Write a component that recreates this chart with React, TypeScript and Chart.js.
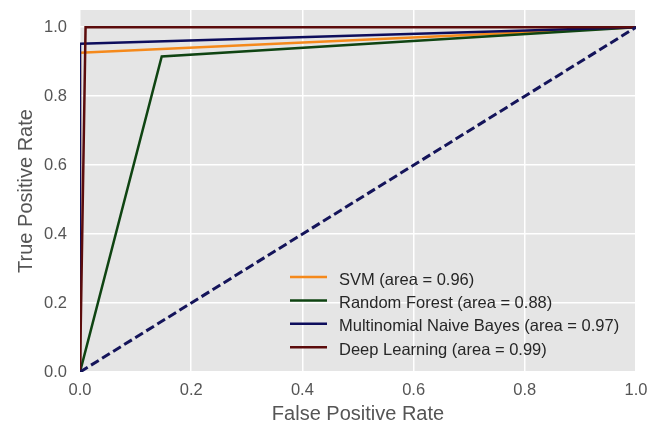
import React, { useEffect, useRef } from 'react';
import { Chart, registerables } from 'chart.js';

Chart.register(...registerables);

const FONT = '"Liberation Sans", Arial, Helvetica, sans-serif';

// tick values / labels
const tickValues = [0, 0.2, 0.4, 0.6, 0.8, 1.0];
const tickLabels = ['0.0', '0.2', '0.4', '0.6', '0.8', '1.0'];

// ROC curves (false positive rate, true positive rate)
const svmFpr = [0, 0, 1];
const svmTpr = [0, 0.926, 1];
const rfFpr = [0, 0.147, 1];
const rfTpr = [0, 0.915, 1];
const nbFpr = [0, 0, 1];
const nbTpr = [0, 0.952, 1];
const dlFpr = [0, 0.01, 1];
const dlTpr = [0, 1.0, 1];
const chanceFpr = [0, 1];
const chanceTpr = [0, 1];

const seriesLabels = [
  'SVM (area = 0.96)',
  'Random Forest (area = 0.88)',
  'Multinomial Naive Bayes (area = 0.97)',
  'Deep Learning (area = 0.99)',
];
const seriesColors = ['#F5891B', '#0F4412', '#0D0D5C', '#5C0C0C'];
const chanceColor = '#14145A';

const toPoints = (xs: number[], ys: number[]) => xs.map((x, i) => ({ x, y: ys[i] }));

const bgPlugin = {
  id: 'plotBg',
  beforeDraw(chart: any) {
    const { ctx, chartArea } = chart;
    ctx.save();
    ctx.fillStyle = '#FFFFFF';
    ctx.fillRect(0, 0, chart.width, chart.height);
    ctx.fillStyle = '#E5E5E5';
    ctx.fillRect(chartArea.left, chartArea.top, chartArea.right - chartArea.left, chartArea.bottom - chartArea.top);
    ctx.restore();
  },
};

const legendPlugin = {
  id: 'customLegend',
  afterDatasetsDraw(chart: any) {
    const { ctx, chartArea } = chart;
    const x0 = chartArea.left + 210;
    const y0 = chartArea.top + 267;
    const step = 23.4;
    ctx.save();
    chart.data.datasets.forEach((ds: any, i: number) => {
      if (!ds.inLegend) return;
      const y = y0 + i * step;
      ctx.strokeStyle = ds.borderColor;
      ctx.lineWidth = 2.5;
      ctx.setLineDash([]);
      ctx.beginPath();
      ctx.moveTo(x0, y);
      ctx.lineTo(x0 + 37, y);
      ctx.stroke();
      ctx.fillStyle = '#262626';
      ctx.font = `16.5px ${FONT}`;
      ctx.textBaseline = 'middle';
      ctx.textAlign = 'left';
      ctx.fillText(ds.label, x0 + 49, y + 3);
    });
    ctx.restore();
  },
};

export default function App() {
  const ref = useRef<HTMLCanvasElement | null>(null);

  useEffect(() => {
    document.body.style.margin = '0';
    const canvas = ref.current;
    if (!canvas) return;
    const curves = [
      [svmFpr, svmTpr],
      [rfFpr, rfTpr],
      [nbFpr, nbTpr],
      [dlFpr, dlTpr],
    ];
    const datasets: any[] = curves.map(([xs, ys], i) => ({
      label: seriesLabels[i],
      data: toPoints(xs, ys),
      borderColor: seriesColors[i],
      backgroundColor: seriesColors[i],
      borderWidth: 2.5,
      showLine: true,
      pointRadius: 0,
      tension: 0,
      order: 10 - i,
      inLegend: true,
    }));
    datasets.push({
      label: 'chance',
      data: toPoints(chanceFpr, chanceTpr),
      borderColor: chanceColor,
      backgroundColor: chanceColor,
      borderWidth: 3,
      borderDash: [9, 4],
      showLine: true,
      pointRadius: 0,
      order: 1,
      inLegend: false,
    });

    const tickFont = { family: FONT, size: 16.5 };
    const titleFont = { family: FONT, size: 20, lineHeight: 1 };
    const setTicks = (scale: any) => {
      scale.ticks = tickValues.map((v) => ({ value: v }));
    };

    const chart = new Chart(canvas, {
      type: 'scatter',
      data: { datasets },
      plugins: [bgPlugin, legendPlugin],
      options: {
        animation: false,
        responsive: false,
        layout: { padding: { left: 0, right: 21, top: 10, bottom: 0 } },
        plugins: {
          legend: { display: false },
          tooltip: { enabled: false },
        },
        scales: {
          x: {
            type: 'linear',
            min: 0,
            max: 1,
            afterBuildTicks: setTicks,
            afterFit: (scale: any) => {
              scale.height = 52;
              scale.paddingLeft = 0;
              scale.paddingRight = 0;
            },
            border: { display: false },
            grid: { color: '#FFFFFF', lineWidth: 1.5, drawTicks: false },
            ticks: {
              color: '#555555',
              font: tickFont,
              padding: 9,
              maxRotation: 0,
              callback: (v: any) => tickLabels[tickValues.findIndex((t) => Math.abs(t - v) < 1e-9)] ?? '',
            },
            title: {
              display: true,
              text: 'False Positive Rate',
              color: '#555555',
              font: titleFont,
              padding: { top: 0, bottom: 0 },
            },
          },
          y: {
            type: 'linear',
            min: 0,
            max: 1.05,
            afterBuildTicks: setTicks,
            afterFit: (scale: any) => {
              scale.width = 80;
              scale.paddingTop = 0;
              scale.paddingBottom = 0;
            },
            border: { display: false },
            grid: { color: '#FFFFFF', lineWidth: 1.5, drawTicks: false },
            ticks: {
              color: '#555555',
              font: tickFont,
              padding: 13,
              callback: (v: any) => tickLabels[tickValues.findIndex((t) => Math.abs(t - v) < 1e-9)] ?? '',
            },
            title: {
              display: true,
              text: 'True Positive Rate',
              color: '#555555',
              font: titleFont,
              padding: { top: 16, bottom: 0 },
            },
          },
        },
      } as any,
    });
    return () => chart.destroy();
  }, []);

  return (
    <div style={{ position: 'absolute', left: 0, top: 0, width: 657, height: 424 }}>
      <canvas ref={ref} width={657} height={424} style={{ width: 657, height: 424, display: 'block' }} />
    </div>
  );
}
